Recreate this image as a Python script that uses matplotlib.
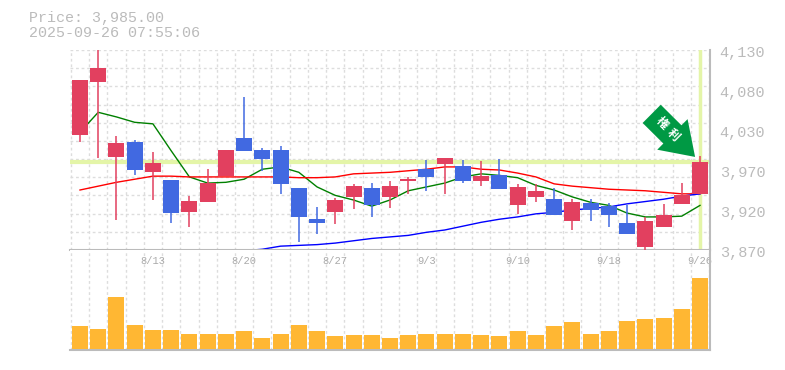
import matplotlib
matplotlib.use('Agg')
import matplotlib.pyplot as plt
import numpy as np

# values
opens = [4019, 4089, 3991, 4010, 3971, 3961, 3919, 3932, 3966, 4016, 4000, 4000, 3951, 3910, 3919, 3939, 3951, 3939,
         3960, 3975, 3982, 3979, 3960, 3967, 3929, 3939, 3936, 3908, 3931, 3927, 3905, 3874, 3900, 3930, 3943]
closes = [4091, 4107, 4009, 3974, 3983, 3918, 3934, 3957, 4000, 3999, 3988, 3956, 3913, 3905, 3935, 3953, 3929, 3953,
          3962, 3965, 3990, 3960, 3966, 3949, 3952, 3947, 3915, 3932, 3922, 3915, 3891, 3908, 3915, 3941, 3985]
highs = [4091, 4140, 4018, 4013, 3997, 3961, 3940, 3975, 4000, 4069, 4003, 4005, 3951, 3926, 3938, 3956, 3957, 3960,
         3965, 3987, 3990, 3987, 3986, 3988, 3956, 3956, 3951, 3936, 3936, 3931, 3928, 3913, 3930, 3957, 3992]
lows = [4011, 3990, 3909, 3967, 3935, 3905, 3900, 3932, 3966, 3999, 3973, 3943, 3880, 3891, 3904, 3923, 3913, 3925,
        3943, 3947, 3943, 3957, 3953, 3949, 3917, 3932, 3915, 3896, 3908, 3900, 3891, 3870, 3900, 3930, 3943]
ma_short = [4023, 4049, 4043, 4036, 4034, 3999, 3965, 3957, 3958, 3962, 3975, 3978, 3971, 3952, 3941, 3935, 3927, 3935,
            3947, 3952, 3957, 3965, 3969, 3967, 3964, 3954, 3948, 3939, 3932, 3928, 3918, 3913, 3913, 3914, 3928]
ma_mid = [3948, 3953, 3958, 3962, 3966, 3966, 3965, 3965, 3965, 3965, 3965, 3965, 3964, 3964, 3965, 3969, 3970, 3971,
          3973, 3975, 3978, 3978, 3975, 3974, 3970, 3965, 3956, 3953, 3951, 3949, 3948, 3947, 3945, 3943, 3943]
ma_long = [3869, 3871, 3875, 3876, 3877, 3879, 3882, 3885, 3887, 3889, 3893, 3896, 3901, 3906, 3910, 3913, 3917, 3919,
           3922, 3924, 3926, 3930, 3933, 3936, 3940, 3943]
volume = [23, 20, 52, 24, 19, 19, 15, 15, 15, 18, 11, 15, 24, 18, 13, 14, 14, 11,
          14, 15, 15, 15, 14, 13, 18, 14, 23, 27, 15, 18, 28, 30, 31, 40, 71]
date_idx = [4, 9, 14, 19, 24, 29, 34]
date_labels = ['8/13', '8/20', '8/27', '9/3', '9/10', '9/18', '9/26']
price_labels = ['3,870', '3,920', '3,970', '4,030', '4,080', '4,130']
last_price = 3985

W, H = 785, 370
GRAY = '#bbbbbb'
GRID = '#dddddd'
HILITE = '#e4f5a8'
UP = '#e2405f'
DOWN = '#4169e1'
MONO = 'Liberation Mono'

fig = plt.figure(figsize=(W / 100, H / 100), dpi=100)
ax = fig.add_axes([70 / W, 1 - 250 / H, 640 / W, 200 / H])
axv = fig.add_axes([70 / W, 1 - 350 / H, 640 / W, 100 / H])

x = np.arange(len(opens))
xlim = (-0.548, 34.548)
ygrid = np.linspace(3870, 4130, 12)
xgrid = np.arange(-0.5, 35, 1)

ax.set_xlim(xlim)
ax.set_ylim(3870, 4130)
ax.set_xticks(xgrid)
ax.set_yticks(ygrid)
ax.grid(True, color=GRID, ls=(0, (2, 2)), lw=1)
ax.set_axisbelow(True)
ax.tick_params(length=0, labelbottom=False, labelleft=False)

ax.axhline(last_price, color=HILITE, lw=3, zorder=1)
ax.axvline(x[-1], color=HILITE, lw=2.5, zorder=1)

ax.plot(x, ma_short, color='green', lw=1, zorder=2)
ax.plot(x, ma_mid, color='red', lw=1, zorder=2)
ax.plot(x[-len(ma_long):], ma_long, color='blue', lw=1, zorder=2)

colors = [UP if c >= o else DOWN for o, c in zip(opens, closes)]
ax.vlines(x, lows, highs, colors=colors, lw=1.1, zorder=3)
ax.bar(x, np.abs(np.array(closes) - np.array(opens)), bottom=np.minimum(opens, closes),
       width=0.88, color=colors, zorder=4)

ax.annotate('', xy=(x[-1] - 0.27, 3991), xytext=(x[-1] - 2.65, 4047),
            arrowprops=dict(arrowstyle='simple,head_length=2.3,head_width=3.1,tail_width=1.85',
                            color='#009944', lw=0, shrinkA=0, shrinkB=0), zorder=5)
ax.text(x[-1] - 2.08, 4035, '権', color='white', fontsize=8.5, fontweight='bold', rotation=-45,
        ha='center', va='center', family='Noto Sans CJK JP', zorder=6)
ax.text(x[-1] - 1.48, 4020, '利', color='white', fontsize=8.5, fontweight='bold', rotation=-45,
        ha='center', va='center', family='Noto Sans CJK JP', zorder=6)

for s in ['top', 'left']:
    ax.spines[s].set_visible(False)
ax.spines['bottom'].set_color(GRAY)
ax.spines['right'].set_color(GRAY)
ax.spines['bottom'].set_linewidth(1.5)
ax.spines['right'].set_linewidth(1.5)

# price labels sit evenly spaced, a little below their level
for val, lab in zip(np.linspace(3870, 4130, 6), price_labels):
    ax.annotate(lab, xy=(1, val), xycoords=('axes fraction', 'data'), xytext=(7, -2.5), textcoords='offset points',
                ha='left', va='center', color=GRAY, fontsize=11, family=MONO)

axv.set_xlim(xlim)
axv.set_ylim(-1.5, 98.5)
axv.set_xticks(xgrid)
axv.set_yticks([])
axv.grid(True, axis='x', color=GRID, ls=(0, (2, 2)), lw=1)
axv.set_axisbelow(True)
axv.tick_params(length=0, labelbottom=False)
axv.bar(x, volume, width=0.88, color='#ffb733', zorder=3)
for s in ['top', 'left']:
    axv.spines[s].set_visible(False)
axv.spines['bottom'].set_color(GRAY)
axv.spines['right'].set_color(GRAY)
axv.spines['bottom'].set_linewidth(1.5)
axv.spines['right'].set_linewidth(1.5)

for i, lab in zip(date_idx, date_labels):
    axv.text(i, 88, lab, ha='center', va='center', color='#aaaaaa', fontsize=7.5, family=MONO, zorder=1)

fig.text(29 / W, 1 - 18 / H, 'Price: 3,985.00', color=GRAY, fontsize=10.8, family=MONO, ha='left', va='center')
fig.text(29 / W, 1 - 33 / H, '2025-09-26 07:55:06', color=GRAY, fontsize=10.8, family=MONO, ha='left', va='center')

fig.savefig('out.png', dpi=100)
